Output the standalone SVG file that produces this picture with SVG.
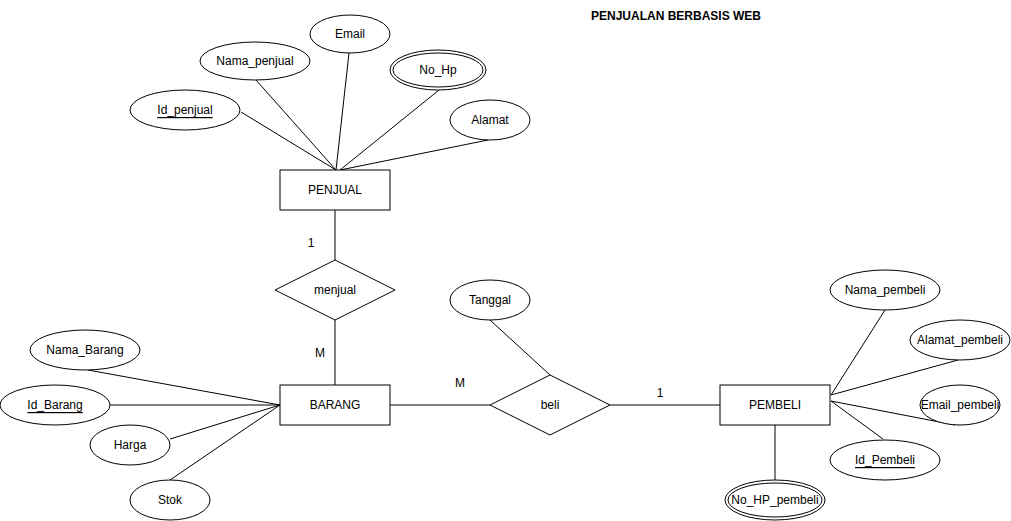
<svg xmlns="http://www.w3.org/2000/svg" width="1011" height="521" viewBox="0 0 1011 521">
<style>
.s{fill:#fff;stroke:#000;stroke-width:1}
.l{stroke:#000;stroke-width:1;fill:none}
text{font-family:"Liberation Sans",Arial,sans-serif;font-size:12px;fill:#000;text-anchor:middle;dominant-baseline:central}
.u{text-decoration:underline}
.t{font-weight:bold}
</style>
<rect width="1011" height="521" fill="#fff"/>
<g id="connectors">
<line class="l" x1="241" y1="112" x2="336" y2="170"/>
<line class="l" x1="256" y1="80" x2="336" y2="170"/>
<line class="l" x1="349" y1="53" x2="336" y2="170"/>
<line class="l" x1="439" y1="90" x2="340" y2="170"/>
<line class="l" x1="488" y1="140" x2="340" y2="170"/>
<line class="l" x1="335" y1="210" x2="335" y2="260"/>
<line class="l" x1="335" y1="320" x2="335" y2="385"/>
<line class="l" x1="88" y1="370" x2="280" y2="405"/>
<line class="l" x1="110" y1="405" x2="280" y2="405"/>
<line class="l" x1="170" y1="439" x2="280" y2="405"/>
<line class="l" x1="170" y1="480" x2="280" y2="405"/>
<line class="l" x1="390" y1="405" x2="490" y2="405"/>
<line class="l" x1="490" y1="320" x2="550" y2="375"/>
<line class="l" x1="610" y1="405" x2="720" y2="405"/>
<line class="l" x1="885" y1="310" x2="831" y2="395"/>
<line class="l" x1="958" y1="360" x2="831" y2="395"/>
<line class="l" x1="955" y1="425" x2="831" y2="401"/>
<line class="l" x1="883" y1="439" x2="831" y2="401"/>
<line class="l" x1="775" y1="425" x2="775" y2="480"/>
</g>
<g id="title"><text class="t" x="676" y="16">PENJUALAN BERBASIS WEB</text></g>
<g id="penjual"><rect class="s" x="280" y="170" width="110" height="40"/><text x="335" y="190">PENJUAL</text></g>
<g id="email"><ellipse class="s" cx="350" cy="34" rx="40" ry="19"/><text x="350" y="34">Email</text></g>
<g id="nama_penjual"><ellipse class="s" cx="255" cy="61" rx="55" ry="19"/><text x="255" y="61">Nama_penjual</text></g>
<g id="id_penjual"><ellipse class="s" cx="185" cy="110" rx="55" ry="20"/><text class="u" x="185" y="110">Id_penjual</text></g>
<g id="no_hp"><ellipse class="s" cx="438" cy="70" rx="48" ry="20"/><ellipse class="s" cx="438" cy="70" rx="45" ry="17"/><text x="438" y="70">No_Hp</text></g>
<g id="alamat"><ellipse class="s" cx="490" cy="120" rx="40" ry="20"/><text x="490" y="120">Alamat</text></g>
<g id="menjual"><polygon class="s" points="335,260 395,290 335,320 275,290"/><text x="335" y="290">menjual</text></g>
<g id="barang"><rect class="s" x="280" y="385" width="110" height="40"/><text x="335" y="405">BARANG</text></g>
<g id="nama_barang"><ellipse class="s" cx="85" cy="350" rx="55" ry="20"/><text x="85" y="350">Nama_Barang</text></g>
<g id="id_barang"><ellipse class="s" cx="55" cy="405" rx="55" ry="20"/><text class="u" x="55" y="405">Id_Barang</text></g>
<g id="harga"><ellipse class="s" cx="130" cy="445" rx="40" ry="20"/><text x="130" y="445">Harga</text></g>
<g id="stok"><ellipse class="s" cx="170" cy="500" rx="40" ry="20"/><text x="170" y="500">Stok</text></g>
<g id="tanggal"><ellipse class="s" cx="490" cy="300" rx="40" ry="20"/><text x="490" y="300">Tanggal</text></g>
<g id="beli"><polygon class="s" points="550,375 610,405 550,435 490,405"/><text x="550" y="405">beli</text></g>
<g id="pembeli"><rect class="s" x="720" y="385" width="110" height="40"/><text x="775" y="405">PEMBELI</text></g>
<g id="nama_pembeli"><ellipse class="s" cx="885" cy="290" rx="55" ry="20"/><text x="885" y="290">Nama_pembeli</text></g>
<g id="alamat_pembeli"><ellipse class="s" cx="960" cy="340" rx="50" ry="20"/><text x="960" y="340">Alamat_pembeli</text></g>
<g id="email_pembeli"><ellipse class="s" cx="960" cy="405" rx="40" ry="20"/><text x="960" y="405">Email_pembeli</text></g>
<g id="id_pembeli"><ellipse class="s" cx="885" cy="460" rx="55" ry="20"/><text class="u" x="885" y="460">Id_Pembeli</text></g>
<g id="no_hp_pembeli"><ellipse class="s" cx="775" cy="500" rx="50" ry="20"/><ellipse class="s" cx="775" cy="500" rx="47" ry="17"/><text x="775" y="500">No_HP_pembeli</text></g>
<g id="labels">
<text x="311" y="243">1</text>
<text x="320" y="353">M</text>
<text x="460" y="383">M</text>
<text x="660" y="393">1</text>
</g>
</svg>
